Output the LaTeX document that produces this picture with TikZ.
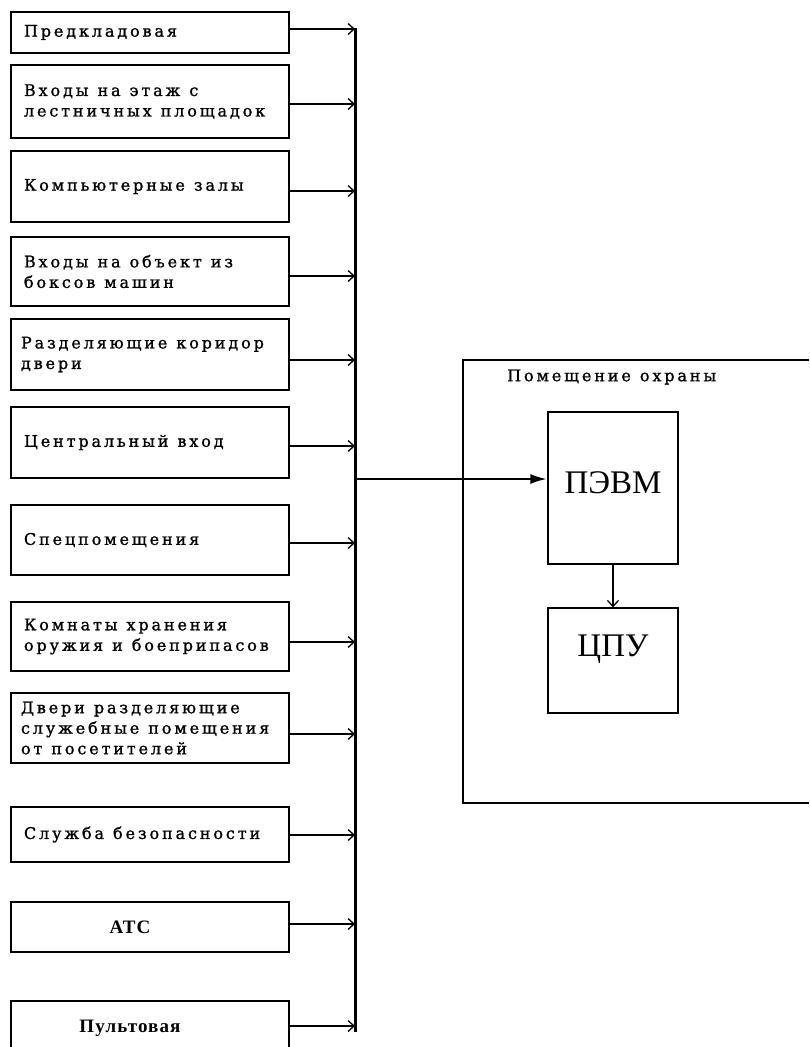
\documentclass[tikz,border=0pt]{standalone}
\usepackage{fontspec}
\usetikzlibrary{arrows.meta}
\newfontfamily\twf[LetterSpace=18,FakeBold=1.2]{DejaVu Serif}
\newcommand\twtext{\twf\fontsize{16}{20.5}\selectfont}
\newcommand\ws{\hspace{9pt}}
\newfontfamily\bigsr{Liberation Serif}
\newfontfamily\srb[LetterSpace=6]{Liberation Serif}
\begin{document}
\begin{tikzpicture}[x=1pt,y=-1pt,
  src/.style={draw, line width=1.2pt, minimum width=278pt, inner xsep=10pt, inner ysep=0pt,
    text width=258pt, align=left, font=\twtext},
  srcc/.style={src, align=center, font=\srb\bfseries\fontsize{19}{22}\selectfont},
  unit/.style={draw, line width=1.2pt, minimum width=130pt, inner sep=0pt, font=\bigsr\fontsize{33}{36}\selectfont},
  conn/.style={line width=1.2pt, -{Straight Barb[length=6pt,width=11pt,line width=1.3pt]}},
  busline/.style={line width=3pt},
  mainline/.style={line width=2.8pt, -{Latex[length=17pt,width=10pt]}},
  framel/.style={line width=1.5pt},
  ttl/.style={font=\twtext, anchor=west, inner sep=0pt}
]
\useasboundingbox (0,0) rectangle (809,1047);
\clip (0,0) rectangle (809,1047);
\fill[white] (0,0) rectangle (809,1047);

% source boxes
\node[src, minimum height=41pt] (b1) at (150,32.5) {\hspace*{3pt}Предкладовая};
\node[src, minimum height=73pt] (b2) at (150,101.5) {\hspace*{3pt}Входы\ws на\ws этаж\ws с\\\hspace*{3pt}лестничных\ws площадок};
\node[src, minimum height=71pt] (b3) at (150,186.5) {\hspace*{3pt}Компьютерные\ws залы};
\node[src, minimum height=69pt] (b4) at (150,271.5) {\hspace*{3pt}Входы\ws на\ws объект\ws из\\\hspace*{3pt}боксов\ws машин};
\node[src, minimum height=71pt] (b5) at (150,354.5) {Разделяющие\ws коридор\\двери};
\node[src, minimum height=71pt] (b6) at (150,442.5) {\hspace*{3pt}Центральный\ws вход};
\node[src, minimum height=70pt] (b7) at (150,540) {\hspace*{3pt}Спецпомещения};
\node[src, minimum height=69pt] (b8) at (150,636.5) {\hspace*{3pt}Комнаты\ws хранения\\\hspace*{3pt}оружия\ws и\ws боеприпасов};
\node[src, minimum height=70pt] (b9) at (150,728) {Двери\ws разделяющие\\служебные\ws помещения\\от\ws посетителей};
\node[src, minimum height=55pt] (b10) at (150,834.5) {\hspace*{3pt}Служба\ws безопасности};
\node[srcc, minimum height=50pt] (b11) at (150,927) {\hspace*{-40pt}АТС};
\node[srcc, minimum height=58pt] (b12) at (150,1030) {\hspace*{-40pt}\raisebox{7pt}{Пультовая}};

% bus coordinates
\coordinate (a1) at (355,29);
\coordinate (a2) at (355,104);
\coordinate (a3) at (355,191);
\coordinate (a4) at (355,276);
\coordinate (a5) at (355,360);
\coordinate (a6) at (355,446);
\coordinate (a7) at (355,543);
\coordinate (a8) at (355,642);
\coordinate (a9) at (355,734);
\coordinate (a10) at (355,835);
\coordinate (a11) at (355,924);
\coordinate (a12) at (355,1026);
\coordinate (bb) at (355,1032);
\coordinate (j) at (355,479);

\draw[busline] ([yshift=1pt]a1) -- (bb);
\foreach \i in {1,...,12} {
  \draw[conn] (b\i.east |- a\i) -- (a\i);
}

% guard room frame
\coordinate (f1) at (809,360);
\coordinate (f2) at (463,360);
\coordinate (f3) at (463,803);
\coordinate (f4) at (809,803);
\draw[framel] (f1) -- (f2) -- (f3) -- (f4);
\node[ttl] (room) at (507,377) {Помещение\ws охраны};

% units
\node[unit, minimum height=152pt] (pevm) at (613,488) {\raisebox{11pt}{ПЭВМ}};
\node[unit, minimum height=105pt] (cpu) at (613,660.5) {\raisebox{30pt}{ЦПУ}};

\draw[mainline] (j) -- (pevm.west |- j);
\draw[conn] (pevm) -- (cpu);
\end{tikzpicture}
\end{document}
